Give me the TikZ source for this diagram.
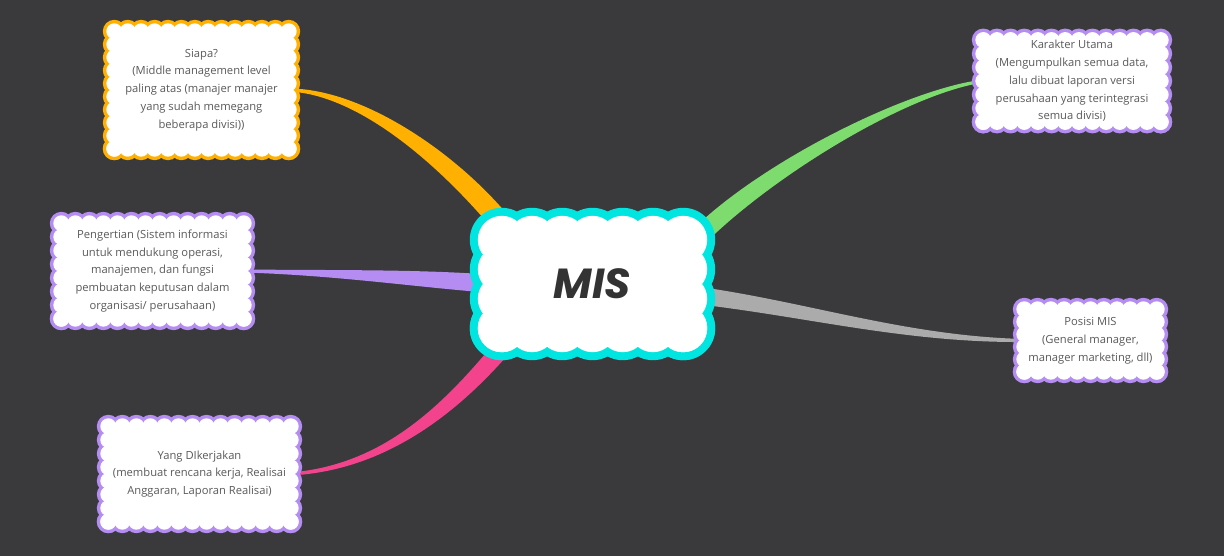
\documentclass[tikz,border=0pt]{standalone}
\usepackage{fontspec}
\setmainfont{Open Sans}
\newfontfamily\misfont{Poppins}
\usetikzlibrary{calc,positioning,backgrounds}
\definecolor{bgdark}{HTML}{3A3A3C}
\definecolor{txtgray}{HTML}{5A5A5A}
\definecolor{miscyan}{HTML}{00E5E0}
\definecolor{siapaorange}{HTML}{FFB000}
\definecolor{lilac}{HTML}{B48CF2}
\definecolor{leafgreen}{HTML}{7EDC6E}
\definecolor{branchgray}{HTML}{ABABAB}
\definecolor{hotpink}{HTML}{F2438C}
\pgfdeclarelayer{branches}
\pgfdeclarelayer{boxes}
\pgfsetlayers{background,branches,boxes,main}
\tikzset{txt/.style={align=center,inner sep=0pt,text=txtgray,font=\fontsize{11.2}{17.8}\selectfont},
  branch/.style={line join=round}}
% name, colour, bumps across, bumps down, outer radius, inner radius
\newcommand{\scallopbox}[6]{%
  \begin{pgfonlayer}{boxes}
  \foreach \rad/\col in {#5/#2,#6/white}{
    \foreach \i in {0,...,#3}{
      \fill[\col] ($(#1.north west)!\i/#3!(#1.north east)$) circle (\rad);
      \fill[\col] ($(#1.south west)!\i/#3!(#1.south east)$) circle (\rad);}
    \foreach \j in {1,...,#4}{
      \fill[\col] ($(#1.north west)!\j/#4!(#1.south west)$) circle (\rad);
      \fill[\col] ($(#1.north east)!\j/#4!(#1.south east)$) circle (\rad);}
  }
  \fill[white] (#1.north west) rectangle (#1.south east);
  \end{pgfonlayer}}

\begin{document}
\begin{tikzpicture}[x=1pt,y=-1pt]
\begin{pgfonlayer}{background}
\fill[bgdark] (0,0) rectangle (1224,556);
\end{pgfonlayer}
\useasboundingbox (0,0) rectangle (1224,556);

\node[inner sep=0pt,minimum width=181pt,minimum height=88pt,text=black!80,
  font=\misfont\bfseries\itshape\fontsize{42}{42}\selectfont] (mis) at (592.5,284) {MIS};

\node[txt,minimum width=174pt,minimum height=117pt] (siapa) at (201.5,90)
  {Siapa?\\(Middle management level\\paling atas (manajer manajer\\yang sudah memegang\\beberapa divisi))};
\node[txt,minimum width=177pt,minimum height=79pt] (karakter) at (1072,81)
  {Karakter Utama\\(Mengumpulkan semua data,\\lalu dibuat laporan versi\\perusahaan yang terintegrasi\\semua divisi)};
\node[txt,minimum width=182pt,minimum height=95pt] (pengertian) at (152.5,271)
  {Pengertian (Sistem informasi\\untuk mendukung operasi,\\manajemen, dan fungsi\\pembuatan keputusan dalam\\organisasi/ perusahaan)};
\node[txt,minimum width=182pt,minimum height=95pt] (dikerjakan) at (199.5,474)
  {Yang DIkerjakan\\(membuat rencana kerja, Realisai\\Anggaran, Laporan Realisai)};
\node[txt,minimum width=132pt,minimum height=62pt] (posisi) at (1090.5,340.5)
  {Posisi MIS\\(General manager,\\manager marketing, dll)};

\scallopbox{mis}{miscyan}{6}{3}{32pt}{24pt}
\scallopbox{siapa}{siapaorange}{13}{9}{11.5pt}{8pt}
\scallopbox{karakter}{lilac}{13}{6}{11.5pt}{8pt}
\scallopbox{pengertian}{lilac}{13}{7}{11.5pt}{8pt}
\scallopbox{dikerjakan}{lilac}{13}{7}{11.5pt}{8pt}
\scallopbox{posisi}{lilac}{10}{5}{11.5pt}{8pt}

\begin{pgfonlayer}{branches}
\fill[branch,siapaorange] ($(siapa.east)+(0,-1.5)$) .. controls +(80,0) and +(-50,-70) .. ($(mis)+(-70,-50)$)
  -- ($(mis)+(-86,-38)$) .. controls +(-55,-70) and +(75,3) .. ($(siapa.east)+(0,1.5)$) -- cycle;
\fill[branch,leafgreen] ($(karakter.west)+(0,-1.5)$) .. controls +(-80,10) and +(65,-70) .. ($(mis)+(92,-46)$)
  -- ($(mis)+(106,-34)$) .. controls +(65,-68) and +(-80,12) .. ($(karakter.west)+(0,1.5)$) -- cycle;
\fill[branch,lilac] ($(pengertian.east)+(0,-1.5)$) .. controls +(100,1) and +(-80,-7) .. ($(mis)+(-85,-8)$)
  -- ($(mis)+(-85,10)$) .. controls +(-80,-5) and +(100,3) .. ($(pengertian.east)+(0,1.5)$) -- cycle;
\fill[branch,branchgray] ($(posisi.west)+(0,-1.5)$) .. controls +(-125,-3) and +(120,14) .. ($(mis)+(85,0)$)
  -- ($(mis)+(85,18)$) .. controls +(120,12) and +(-125,1) .. ($(posisi.west)+(0,1.5)$) -- cycle;
\fill[branch,hotpink] ($(dikerjakan.east)+(0,-1.5)$) .. controls +(95,-8) and +(-60,75) .. ($(mis)+(-86,44)$)
  -- ($(mis)+(-72,56)$) .. controls +(-60,73) and +(95,-5) .. ($(dikerjakan.east)+(0,1.5)$) -- cycle;
\end{pgfonlayer}
\end{tikzpicture}
\end{document}
